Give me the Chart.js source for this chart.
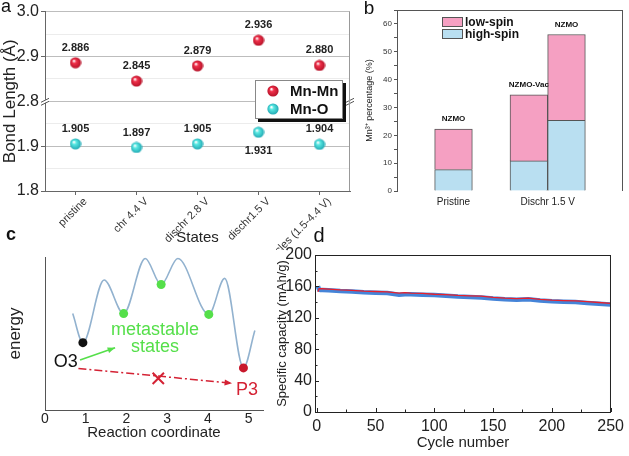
<!DOCTYPE html>
<html>
<head>
<meta charset="UTF-8">
<title>Mn bond lengths, Mn3+ spin states, energy landscape and cycling</title>
<script src="https://cdn.jsdelivr.net/npm/chart.js"></script>
<style>
  html, body { margin: 0; padding: 0; background: #fff; }
  #wrap { position: relative; width: 629px; height: 456px; overflow: hidden; }
  canvas { position: absolute; }
  #ca { left: 0; top: 0; }
  #cb { left: 330px; top: 0; }
  #cc { left: 0; top: 225px; }
  #cd { left: 270px; top: 225px; }
</style>
</head>
<body>
<div id="wrap">
  <canvas id="cc" width="280" height="231"></canvas>
  <canvas id="cd" width="359" height="231"></canvas>
  <canvas id="cb" width="299" height="225"></canvas>
  <canvas id="ca" width="360" height="250"></canvas>
</div>
<script>
// panel a: bond lengths
const states = ['pristine', 'chr 4.4 V', 'dischr 2.8 V', 'dischr1.5 V', '10 cycles (1.5-4.4 V)'];
const mnMn = [2.886, 2.845, 2.879, 2.936, 2.880];
const mnO = [1.905, 1.897, 1.905, 1.931, 1.904];
const bondTickLabels = ['1.8', '1.9', '2.8', '2.9', '3.0'];

// panel b: Mn3+ spin states (six slots, empty ones null)
const spinBars = ['', 'NZMO', '', 'NZMO-Vac', 'NZMO', ''];
const highSpin = [null, 7.7, null, 10.8, 25.4, null];
const lowSpin = [null, 14.5, null, 23.7, 30.8, null];
const spinGroups = ['Pristine', 'Dischr 1.5 V'];
const spinGroupBars = [[1], [3, 4]];

// panel c: energy landscape
const curveX = [0.68, 0.93, 1.45, 1.93, 2.46, 2.85, 3.26, 4.02, 4.41, 4.87, 5.15];
const curveY = [6.3, 4.4, 8.5, 6.3, 9.9, 8.2, 9.9, 6.25, 8.6, 2.75, 5.2];
const dotIndex = [1, 3, 5, 7, 9];
const reactionTicks = [0, 1, 2, 3, 4, 5];

// panel d: cycling
const cycles = [1, 2, 3, 5, 10, 20, 30, 40, 50, 60, 70, 75, 80, 90, 100, 110, 120, 130, 140, 150, 160, 170, 180, 190, 200, 210, 220, 230, 240, 250];
const discharge = [160, 156, 155.5, 155.5, 155, 154, 153.5, 152.5, 152, 151.5, 149.5, 150, 150, 149.5, 149, 148, 147, 146.5, 146, 144.5, 143.5, 143, 143.5, 142, 141, 140.5, 140, 139, 138, 137];
const charge = [153, 157, 157, 157, 156.5, 155.5, 155, 154, 153.5, 153, 151.5, 152, 151.5, 151, 150, 149.5, 148.5, 148, 147.5, 146, 145, 144.5, 145, 143.5, 142.5, 142, 141.5, 140.5, 139.5, 138.5];
const cycleTicks = [0, 50, 100, 150, 200, 250];

const FAMILY = 'Arial, "Liberation Sans", Helvetica, sans-serif';
Chart.defaults.font.family = FAMILY;
Chart.defaults.color = '#222';
Chart.defaults.animation = false;
Chart.defaults.plugins.legend.display = false;
Chart.defaults.plugins.tooltip.enabled = false;

const GREEN = '#55df4a';
const RED = '#d42234';

function sphere(base, dark) {
  const c = document.createElement('canvas');
  c.width = 12; c.height = 12;
  const g = c.getContext('2d');
  const grad = g.createRadialGradient(4.3, 4, 0.4, 6, 6, 6);
  grad.addColorStop(0, '#ffffff');
  grad.addColorStop(0.3, base);
  grad.addColorStop(1, dark);
  g.fillStyle = grad;
  g.beginPath(); g.arc(6, 6, 5.6, 0, Math.PI * 2); g.fill();
  return c;
}
const redBall = sphere('#f0304a', '#b00f25');
const cyanBall = sphere('#58e8e2', '#1ea4b0');

// frame lines + panel letter
const decor = {
  id: 'decor',
  afterDraw(chart, args, o) {
    const { ctx, chartArea: a } = chart;
    ctx.save();
    ctx.strokeStyle = o.color || '#444';
    ctx.lineWidth = 1;
    ctx.beginPath();
    if (o.top) { ctx.moveTo(a.left, a.top + 0.5); ctx.lineTo(a.right, a.top + 0.5); }
    if (o.right) { ctx.moveTo(a.right - 0.5, a.top); ctx.lineTo(a.right - 0.5, a.bottom); }
    ctx.stroke();
    if (o.letter) {
      ctx.fillStyle = '#111';
      ctx.font = o.letter.font + ' ' + FAMILY;
      ctx.textAlign = 'center'; ctx.textBaseline = 'middle';
      ctx.fillText(o.letter.text, o.letter.x, o.letter.y);
    }
    ctx.restore();
  }
};

// ---------- a ----------
function bondAxis(v) { return v < 2.5 ? (v - 1.8) * 10 : (v - 2.8) * 10 + 2; }

const bondPlugin = {
  id: 'bondExtras',
  afterDatasetsDraw(chart) {
    const ctx = chart.ctx;
    const a = chart.chartArea;
    ctx.save();
    ctx.font = 'bold 11px ' + FAMILY;
    ctx.fillStyle = '#222';
    ctx.textAlign = 'center'; ctx.textBaseline = 'middle';
    chart.data.datasets.forEach((ds, di) => {
      chart.getDatasetMeta(di).data.forEach((pt, i) => {
        const below = ds.labelBelow.includes(i);
        ctx.fillText(ds.raw[i].toFixed(3), pt.x, pt.y + (below ? 19 : -15));
      });
    });
    // axis break marks
    const yb = chart.scales.y.getPixelForValue(2);
    [a.left, a.right].forEach(x => {
      ctx.fillStyle = '#fff';
      ctx.fillRect(x - 4, yb - 1.5, 8, 3);
      ctx.strokeStyle = '#555'; ctx.lineWidth = 1;
      ctx.beginPath();
      ctx.moveTo(x - 4, yb + 1); ctx.lineTo(x + 4, yb - 3);
      ctx.moveTo(x - 4, yb + 4); ctx.lineTo(x + 4, yb);
      ctx.stroke();
    });
    // legend
    ctx.fillStyle = '#111';
    ctx.fillRect(258, 83, 88, 39);
    ctx.fillStyle = '#fff';
    ctx.fillRect(255, 80, 88, 39);
    ctx.strokeStyle = '#888';
    ctx.strokeRect(255.5, 80.5, 87, 38);
    ctx.font = 'bold 15px ' + FAMILY;
    ctx.textAlign = 'left';
    ctx.fillStyle = '#111';
    chart.data.datasets.forEach((ds, di) => {
      const y = 91 + di * 18;
      ctx.drawImage(ds.pointStyle, 267, y - 6);
      ctx.fillText(ds.label, 290, y + 1);
    });
    ctx.restore();
  }
};

new Chart(document.getElementById('ca'), {
  type: 'line',
  data: {
    labels: states,
    datasets: [
      { label: 'Mn-Mn', data: mnMn.map(bondAxis), raw: mnMn, labelBelow: [], showLine: false, pointStyle: redBall, pointRadius: 6 },
      { label: 'Mn-O', data: mnO.map(bondAxis), raw: mnO, labelBelow: [3], showLine: false, pointStyle: cyanBall, pointRadius: 6 }
    ]
  },
  options: {
    responsive: false,
    layout: { padding: { top: 10, right: 10, left: 0, bottom: 0 } },
    scales: {
      x: {
        offset: true,
        grid: { drawOnChartArea: false, tickLength: 4, color: '#666' },
        border: { color: '#666' },
        ticks: { minRotation: 45, maxRotation: 45, autoSkip: false, font: { size: 11 }, color: '#333', labelOffset: 10, padding: 0 },
        title: { display: true, text: 'States', font: { size: 15 }, padding: { top: 0, bottom: 3 } },
        afterFit: s => { s.height = 59; }
      },
      y: {
        min: 0, max: 4,
        ticks: { stepSize: 0.5, callback: v => Number.isInteger(v) ? bondTickLabels[v] : '', font: { size: 16 }, padding: 2, color: '#222' },
        grid: {
          color: c => Number.isInteger(c.tick.value) ? '#bdbdbd' : '#ececec',
          tickColor: c => Number.isInteger(c.tick.value) ? '#666' : 'rgba(0,0,0,0)',
          tickLength: 4
        },
        border: { color: '#666' },
        title: { display: true, text: 'Bond Length (Å)', font: { size: 17 }, padding: { top: 0, bottom: 0 } },
        afterFit: s => { s.width = 45; }
      }
    },
    plugins: {
      decor: { right: true, color: '#999', letter: { text: 'a', x: 6, y: 7, font: '18px' } }
    }
  },
  plugins: [decor, bondPlugin]
});

// ---------- b ----------
const spinPlugin = {
  id: 'spinExtras',
  afterDatasetsDraw(chart) {
    const ctx = chart.ctx;
    const a = chart.chartArea;
    const xs = chart.scales.x;
    ctx.save();
    ctx.textAlign = 'center'; ctx.textBaseline = 'middle';
    ctx.fillStyle = '#111';
    ctx.font = 'bold 8px ' + FAMILY;
    chart.getDatasetMeta(1).data.forEach((el, i) => {
      if (lowSpin[i] == null) return;
      ctx.fillText(spinBars[i], el.x, el.y - 10);
    });
    ctx.font = '10px ' + FAMILY;
    ctx.fillStyle = '#222';
    spinGroups.forEach((g, gi) => {
      const idx = spinGroupBars[gi];
      const x = idx.reduce((s, i) => s + xs.getPixelForValue(i), 0) / idx.length;
      ctx.fillText(g, x, a.bottom + 11);
    });
    // legend
    ctx.textAlign = 'left';
    ctx.font = 'bold 12px ' + FAMILY;
    [1, 0].forEach((di, k) => {
      const ds = chart.data.datasets[di];
      const y = 17 + k * 12;
      ctx.fillStyle = ds.backgroundColor;
      ctx.fillRect(112, y, 21, 10);
      ctx.strokeStyle = '#555';
      ctx.strokeRect(112.5, y + 0.5, 20, 9);
      ctx.fillStyle = '#111';
      ctx.fillText(ds.label, 135, y + 5.5);
    });
    ctx.restore();
  }
};

new Chart(document.getElementById('cb'), {
  type: 'bar',
  data: {
    labels: spinBars,
    datasets: [
      { label: 'high-spin', data: highSpin, backgroundColor: '#b9dff1', borderColor: '#555', borderWidth: 1, barPercentage: 1, categoryPercentage: 1 },
      { label: 'low-spin', data: lowSpin, backgroundColor: '#f5a0c2', borderColor: '#555', borderWidth: 1, barPercentage: 1, categoryPercentage: 1 }
    ]
  },
  options: {
    responsive: false,
    layout: { padding: { top: 10, right: 6, left: 0, bottom: 34 } },
    scales: {
      x: { display: false, stacked: true, offset: true },
      y: {
        stacked: true, min: 0, max: 65,
        ticks: { stepSize: 5, callback: v => v % 10 === 0 && v <= 60 ? v : '', font: { size: 8 }, padding: 2, color: '#333' },
        grid: { drawOnChartArea: false, tickLength: 3, color: '#555' },
        border: { color: '#555' },
        title: { display: true, text: 'Mn³⁺ percentage (%)', font: { size: 9 }, padding: { top: 34, bottom: 0 } },
        afterFit: s => { s.width = 67; }
      }
    },
    plugins: {
      decor: { top: true, right: true, color: '#555', letter: { text: 'b', x: 39, y: 9, font: '19px' } }
    }
  },
  plugins: [decor, spinPlugin]
});

// ---------- c ----------
const notes = [
  { text: 'metastable', x: 2.7, y: 5.23, color: GREEN },
  { text: 'states', x: 2.7, y: 4.14, color: GREEN },
  { text: 'O3', x: 0.51, y: 3.12, color: '#111' },
  { text: 'P3', x: 4.96, y: 1.31, color: RED }
];

const energyPlugin = {
  id: 'energyExtras',
  afterDatasetsDraw(chart) {
    const ctx = chart.ctx;
    const xs = chart.scales.x, ys = chart.scales.y;
    ctx.save();
    chart.data.datasets.forEach((ds, di) => {
      if (!ds.arrow) return;
      const pts = chart.getDatasetMeta(di).data;
      const p0 = pts[pts.length - 2], p1 = pts[pts.length - 1];
      const ang = Math.atan2(p1.y - p0.y, p1.x - p0.x);
      ctx.fillStyle = ds.borderColor;
      ctx.beginPath();
      ctx.moveTo(p1.x, p1.y);
      ctx.lineTo(p1.x - 8 * Math.cos(ang - 0.38), p1.y - 8 * Math.sin(ang - 0.38));
      ctx.lineTo(p1.x - 8 * Math.cos(ang + 0.38), p1.y - 8 * Math.sin(ang + 0.38));
      ctx.closePath();
      ctx.fill();
    });
    ctx.font = '18px ' + FAMILY;
    ctx.textAlign = 'center'; ctx.textBaseline = 'middle';
    notes.forEach(n => {
      ctx.fillStyle = n.color;
      ctx.fillText(n.text, xs.getPixelForValue(n.x), ys.getPixelForValue(n.y));
    });
    ctx.restore();
  }
};

new Chart(document.getElementById('cc'), {
  type: 'line',
  data: {
    datasets: [
      {
        data: dotIndex.map(i => ({ x: curveX[i], y: curveY[i] })), showLine: false, order: 0,
        pointRadius: 4.5, pointBorderWidth: 0,
        pointBackgroundColor: ['#111', GREEN, GREEN, GREEN, '#c8182c']
      },
      {
        data: [{ x: 2.78, y: 2.07 }], showLine: false, order: 1,
        pointStyle: 'crossRot', pointRadius: 8, pointBorderWidth: 2, pointBorderColor: RED
      },
      {
        data: [{ x: 0.86, y: 3.27 }, { x: 1.72, y: 4.07 }], arrow: true, order: 2,
        borderColor: GREEN, borderWidth: 1.6, pointRadius: 0
      },
      {
        data: [{ x: 0.82, y: 2.72 }, { x: 4.59, y: 1.75 }], arrow: true, order: 2,
        borderColor: RED, borderWidth: 1.5, borderDash: [8, 3, 2, 3], pointRadius: 0
      },
      {
        data: curveX.map((x, i) => ({ x, y: curveY[i] })), order: 3,
        borderColor: '#92b2cf', borderWidth: 1.6, pointRadius: 0, cubicInterpolationMode: 'monotone'
      }
    ]
  },
  options: {
    responsive: false,
    layout: { padding: { top: 32, right: 17, left: 0, bottom: 0 } },
    scales: {
      x: {
        type: 'linear', min: 0, max: 5.35,
        afterBuildTicks: s => { s.ticks = reactionTicks.map(v => ({ value: v })); },
        ticks: { font: { size: 14 }, padding: 1, color: '#222' },
        grid: { drawOnChartArea: false, drawTicks: false },
        border: { color: '#555' },
        title: { display: true, text: 'Reaction coordinate', font: { size: 15 }, padding: { top: 0, bottom: 14 } },
        afterFit: s => { s.height = 46; }
      },
      y: {
        min: 0, max: 10,
        ticks: { display: false },
        grid: { display: false },
        border: { color: '#555' },
        title: { display: true, text: 'energy', font: { size: 17 }, padding: { top: 5, bottom: 0 } },
        afterFit: s => { s.width = 45; }
      }
    },
    plugins: {
      decor: { letter: { text: 'c', x: 11, y: 10, font: 'bold 18px' } }
    }
  },
  plugins: [decor, energyPlugin]
});

// ---------- d ----------
const tickPlugin = {
  id: 'innerTicks',
  afterDraw(chart) {
    const ctx = chart.ctx;
    const a = chart.chartArea;
    const xs = chart.scales.x, ys = chart.scales.y;
    ctx.save();
    ctx.strokeStyle = '#222'; ctx.lineWidth = 1;
    ctx.beginPath();
    cycleTicks.forEach((v, i) => {
      const x = Math.round(xs.getPixelForValue(v)) + 0.5;
      ctx.moveTo(x, a.bottom); ctx.lineTo(x, a.bottom - 4);
      if (i < cycleTicks.length - 1) {
        const xm = Math.round(xs.getPixelForValue((v + cycleTicks[i + 1]) / 2)) + 0.5;
        ctx.moveTo(xm, a.bottom); ctx.lineTo(xm, a.bottom - 2.5);
      }
    });
    ys.ticks.forEach((t, i) => {
      const y = Math.round(ys.getPixelForValue(t.value)) + 0.5;
      ctx.moveTo(a.left, y); ctx.lineTo(a.left + 4, y);
      if (i < ys.ticks.length - 1) {
        const ym = Math.round(ys.getPixelForValue((t.value + ys.ticks[i + 1].value) / 2)) + 0.5;
        ctx.moveTo(a.left, ym); ctx.lineTo(a.left + 2.5, ym);
      }
    });
    ctx.stroke();
    ctx.restore();
  }
};

new Chart(document.getElementById('cd'), {
  type: 'line',
  data: {
    datasets: [
      { label: 'charge', data: cycles.map((c, i) => ({ x: c, y: charge[i] })), borderColor: '#e8202c', borderWidth: 1.3, pointRadius: 0, order: 0 },
      { label: 'discharge', data: cycles.map((c, i) => ({ x: c, y: discharge[i] })), borderColor: '#4584d8', borderWidth: 4.5, pointRadius: 0, order: 1 }
    ]
  },
  options: {
    responsive: false,
    layout: { padding: { top: 30, right: 11, left: 0, bottom: 0 } },
    scales: {
      x: {
        type: 'linear', min: -1.5, max: 250.3,
        afterBuildTicks: s => { s.ticks = cycleTicks.map(v => ({ value: v })); },
        ticks: { font: { size: 16 }, padding: 5, color: '#222' },
        grid: { drawOnChartArea: false, drawTicks: false },
        border: { color: '#222' },
        title: { display: true, text: 'Cycle number', font: { size: 15 }, padding: { top: 0, bottom: 4 } },
        afterFit: s => { s.height = 44; }
      },
      y: {
        min: 0, max: 200,
        ticks: { stepSize: 40, font: { size: 16 }, padding: 3, color: '#222' },
        grid: { drawOnChartArea: false, drawTicks: false },
        border: { color: '#222' },
        title: { display: true, text: 'Specific capacity (mAh/g)', font: { size: 13 }, padding: { top: 5, bottom: 0 } },
        afterFit: s => { s.width = 45; }
      }
    },
    plugins: {
      decor: { top: true, right: true, color: '#222', letter: { text: 'd', x: 49, y: 11, font: '20px' } }
    }
  },
  plugins: [decor, tickPlugin]
});
</script>
</body>
</html>
